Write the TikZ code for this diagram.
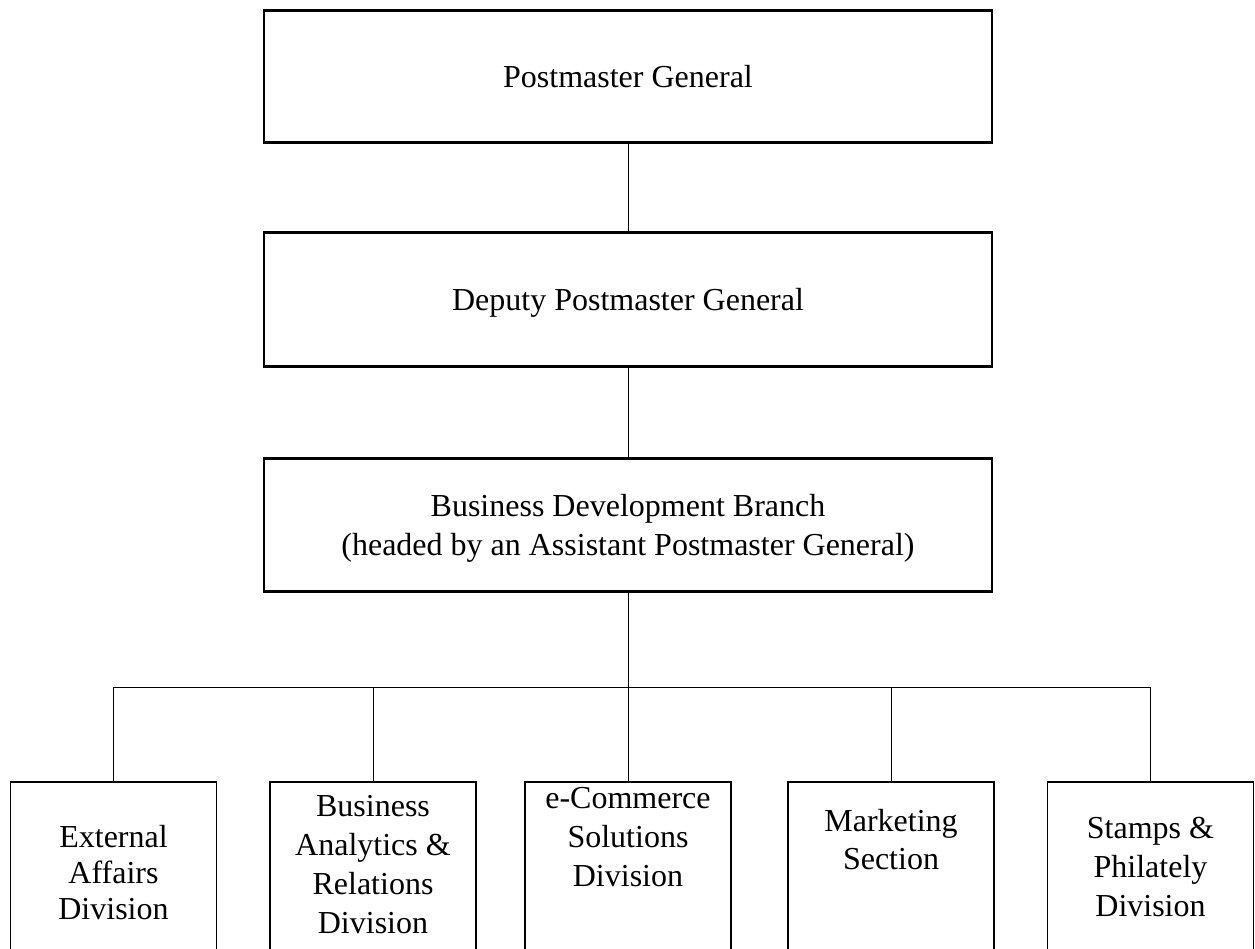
\documentclass[tikz,border=0pt]{standalone}
\usepackage{fontspec}
\setmainfont{Liberation Serif}
\begin{document}
\begin{tikzpicture}[x=1pt,y=-1pt,
  topbox/.style={draw, line width=2.2pt, minimum width=728pt, inner sep=0pt},
  divbox/.style={draw, line width=1.8pt, minimum width=206pt, minimum height=200pt, inner sep=0pt},
  txt/.style={font=\fontsize{32}{38}\selectfont, align=center, anchor=base, inner sep=0pt},
  conn/.style={line width=1pt}]
\useasboundingbox (0,0) rectangle (1255,948);
\clip (0,0) rectangle (1255,948);
\fill[white] (0,0) rectangle (1255,948);
% top boxes
\node[topbox, minimum height=132pt] (pg) at (628,76.5) {};
\node[topbox, minimum height=134pt] (dpg) at (628,299.5) {};
\node[topbox, minimum height=133pt] (bdb) at (628,525) {};
\node[txt] (pgt) at (628,87) {Postmaster General};
\node[txt] (dpgt) at (628,310) {Deputy Postmaster General};
\node[txt, font=\fontsize{32}{39}\selectfont] (bdbt) at (628,555) {Business Development Branch\\(headed by an Assistant Postmaster General)};
% division boxes
\node[divbox] (d1) at (113.5,882) {};
\node[divbox] (d2) at (373,882) {};
\node[divbox] (d3) at (628,882) {};
\node[divbox] (d4) at (891,882) {};
\node[divbox] (d5) at (1150.5,882) {};
\node[txt, font=\fontsize{32}{36}\selectfont] (d1t) at (113.5,919) {External\\Affairs\\Division};
\node[txt, font=\fontsize{32}{39}\selectfont] (d2t) at (373,933) {Business\\Analytics \&\\Relations\\Division};
\node[txt, font=\fontsize{32}{39}\selectfont] (d3t) at (628,886) {e-Commerce\\Solutions\\Division};
\node[txt] (d4t) at (891,869) {Marketing\\Section};
\node[txt, font=\fontsize{32}{39}\selectfont] (d5t) at (1150.5,916) {Stamps \&\\Philately\\Division};
% connectors
\coordinate (bus) at (0,687);
\draw[conn] (pg.south) -- (dpg.north);
\draw[conn] (dpg.south) -- (bdb.north);
\draw[conn] (bdb.south) -- (d3.north);
\draw[conn] (d1.north) -- (d1.north |- bus) -- (d5.north |- bus) -- (d5.north);
\draw[conn] (d2.north) -- (d2.north |- bus);
\draw[conn] (d4.north) -- (d4.north |- bus);
\end{tikzpicture}
\end{document}
